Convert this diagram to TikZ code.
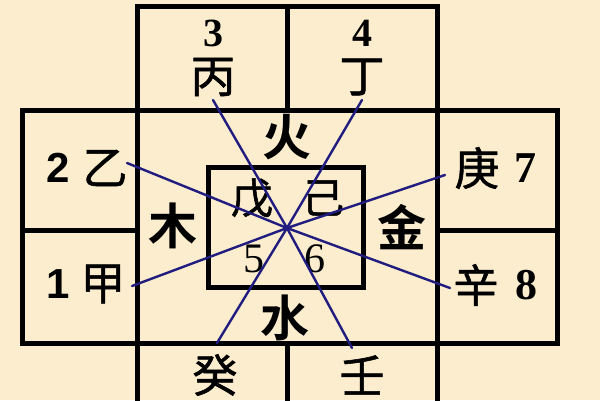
\documentclass[tikz,border=0pt]{standalone}
\usepackage{fontspec}
\setmainfont{Liberation Serif}
\newfontfamily\cjk{Noto Sans CJK SC}[FakeBold=1.2, BoldFont={Noto Sans CJK SC Bold}, BoldFeatures={FakeBold=0}]
\newfontfamily\sansnum{Liberation Sans}
\definecolor{paper}{RGB}{251,237,205}
\definecolor{spokeblue}{RGB}{32,28,128}
\tikzset{boxline/.style={line width=5pt, line join=miter}}
\tikzset{spoke/.style={line width=2.4pt, spokeblue, line cap=round}}
\tikzset{stem/.style={font=\cjk\fontsize{45}{45}\selectfont, inner sep=0pt}}
\tikzset{element/.style={font=\cjk\bfseries\fontsize{49}{49}\selectfont, inner sep=0pt}}
\tikzset{numeral/.style={font=\bfseries\fontsize{#1}{#1}\selectfont, inner sep=0pt}}
\tikzset{numeral/.default=40}
\tikzset{sansnumeral/.style={font=\sansnum\bfseries\fontsize{42}{42}\selectfont, inner sep=0pt}}
\tikzset{innernumeral/.style={font=\fontsize{42}{42}\selectfont, inner sep=0pt}}

\begin{document}
\begin{tikzpicture}[x=1pt, y=-1pt]
            \fill[paper] (0,0) rectangle (600,400);
            \useasboundingbox (0,0) rectangle (600,400);
            \draw[boxline] (137,110) -- (137,6) -- (437,6) -- (437,110);
            \draw[boxline] (287,6) -- (287,110);
            \draw[boxline] (22,110) rectangle (557,343);
            \draw[boxline] (22,230) -- (137,230) (437,230) -- (557,230);
            \draw[boxline] (137,110) -- (137,410) (437,110) -- (437,410) (287,343) -- (287,410);
            \draw[boxline] (208,167) rectangle (363,287);
            \node[numeral] (three) at (213,33) {3};
            \node[stem] (bing) at (213,77) {丙};
            \node[numeral] (four) at (362,33) {4};
            \node[stem] (ding) at (362,77) {丁};
            \node[element] (huo) at (287,137) {火};
            \node[sansnumeral] (two) at (58,168) {2};
            \node[stem] (yi) at (105,168) {乙};
            \node[stem] (geng) at (477,168) {庚};
            \node[numeral=44] (seven) at (525,168) {7};
            \node[element] (mu) at (173,226) {木};
            \node[element] (jin) at (402,227) {金};
            \node[stem, font=\cjk\fontsize{42}{42}\selectfont] (wu) at (252,198) {戊};
            \node[stem, font=\cjk\fontsize{42}{42}\selectfont] (ji) at (323,198) {己};
            \node[innernumeral] (five) at (254,259) {5};
            \node[innernumeral] (six) at (315,259) {6};
            \node[sansnumeral] (one) at (58,284) {1};
            \node[stem] (jia) at (103,284) {甲};
            \node[stem] (xin) at (476,285) {辛};
            \node[numeral=44] (eight) at (526,285) {8};
            \node[element] (shui) at (285,318) {水};
            \node[stem] (gui) at (215,375) {癸};
            \node[stem] (ren) at (362,375) {壬};
            \coordinate (hub) at (287,228);
            \coordinate (bingend) at (213,100);
            \coordinate (dingend) at (362,100);
            \coordinate (yiend) at (127,163);
            \coordinate (gengend) at (445,175);
            \coordinate (jiaend) at (132,286);
            \coordinate (xinend) at (450,288);
            \coordinate (guiend) at (217,343);
            \coordinate (renend) at (352,348);
            \draw[spoke] (hub) -- (bingend);
            \draw[spoke] (hub) -- (dingend);
            \draw[spoke] (hub) -- (yiend);
            \draw[spoke] (hub) -- (gengend);
            \draw[spoke] (hub) -- (jiaend);
            \draw[spoke] (hub) -- (xinend);
            \draw[spoke] (hub) -- (guiend);
            \draw[spoke] (hub) -- (renend);
        \end{tikzpicture}
\end{document}
